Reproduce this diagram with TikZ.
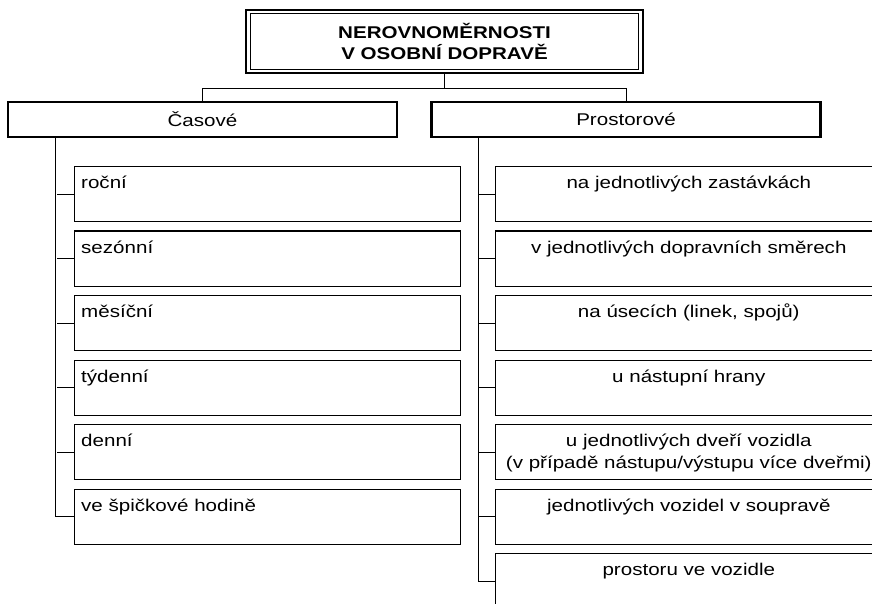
\documentclass[tikz,border=0pt]{standalone}
\usepackage{fontspec}
\setmainfont{Liberation Sans}[FakeStretch=1.21]
\usetikzlibrary{positioning}
\tikzstyle{title}=[
   rectangle,
   draw,
   line width=1.25pt,
   minimum width=198.5pt,
   minimum height=31.5pt,
   align=center,
   font=\bfseries
]
\tikzstyle{group}=[
   rectangle,
   draw,
   line width=1.25pt,
   minimum width=194.5pt,
   minimum height=17.5pt
]
\tikzstyle{item}=[
   rectangle,
   draw,
   line width=0.6pt,
   minimum width=193pt,
   minimum height=27.5pt,
   inner xsep=3.3pt,
   inner ysep=0pt,
   text width=186.4pt,
   text height=11pt,
   text depth=16.5pt,
   align=left
]
\tikzstyle{place}=[
   item,
   inner xsep=1.5pt,
   text width=190pt,
   align=center
]
\tikzstyle{conn}=[line width=0.5pt]

\begin{document}
\begin{tikzpicture}[
         x=0.5pt, y=-0.5pt,
         node distance=4.15pt
      ]
      \fontsize{8.5}{10.8}\selectfont
      \useasboundingbox (0,0) rectangle (872,604);
      \clip (0,0) rectangle (872,604);

      \node (0) [title] at (444.5,41.5) {
         NEROVNOMĚRNOSTI
         \\V OSOBNÍ DOPRAVĚ
      };
      \draw[line width=0.5pt] ([shift={(2.9pt,-2.3pt)}]0.north west)
         rectangle ([shift={(-2.9pt,2.3pt)}]0.south east);

      \node (1) [group] at (202.5,119.5) {Časové};
      \node (2) [group, right=16pt of 1] {Prostorové};

      \node (3) [item, anchor=north west] at (74,166) {roční};
      \node (4) [item, below=of 3] {sezónní};
      \node (5) [item, below=of 4] {měsíční};
      \node (6) [item, below=of 5] {týdenní};
      \node (7) [item, below=of 6] {denní};
      \node (8) [item, below=of 7] {ve špičkové hodině};

      \node (9) [place, right=17pt of 3] {na jednotlivých zastávkách};
      \node (10) [place, below=of 9] {v jednotlivých dopravních směrech};
      \node (11) [place, below=of 10] {na úsecích (linek, spojů)};
      \node (12) [place, below=of 11] {u nástupní hrany};
      \node (13) [place, below=of 12] {
         u jednotlivých dveří vozidla
         \\(v případě nástupu/výstupu více dveřmi)
      };
      \node (14) [place, below=of 13] {jednotlivých vozidel v soupravě};
      \node (15) [place, below=of 14] {prostoru ve vozidle};

      \draw[conn] (0.south) -- ++(0,14) -| (1.north);
      \draw[conn] (0.south) -- ++(0,14) -| (2.north);

      \draw[conn] ([xshift=24.5pt]1.south west) |- (8.west);
      \draw[conn] (3.west) -- ++(-17,0) (4.west) -- ++(-17,0)
         (5.west) -- ++(-17,0) (6.west) -- ++(-17,0) (7.west) -- ++(-17,0);

      \draw[conn] ([xshift=24pt]2.south west) |- (15.west);
      \draw[conn] (9.west) -- ++(-17,0) (10.west) -- ++(-17,0)
         (11.west) -- ++(-17,0) (12.west) -- ++(-17,0) (13.west) -- ++(-17,0)
         (14.west) -- ++(-17,0);
   \end{tikzpicture}
\end{document}
